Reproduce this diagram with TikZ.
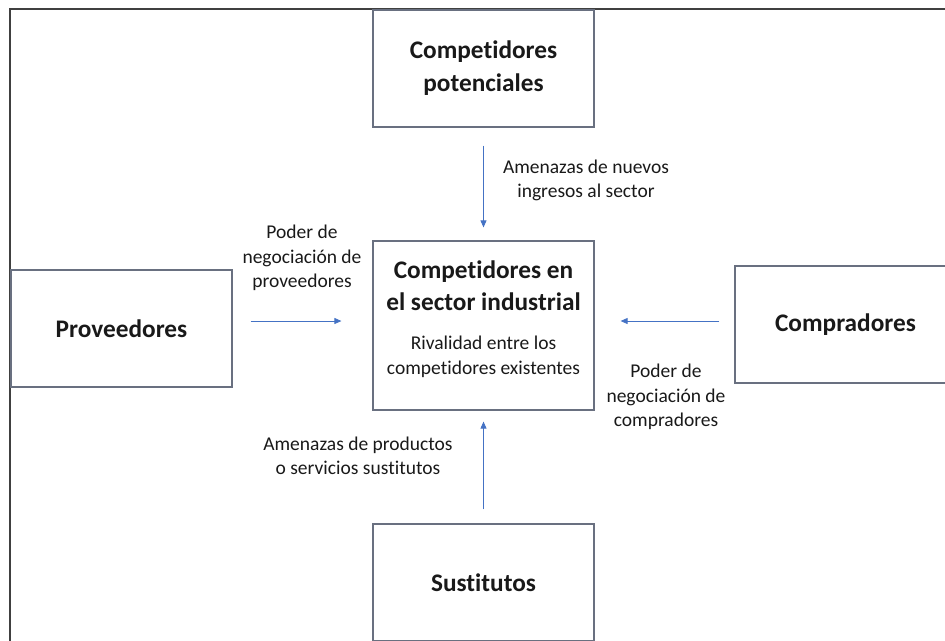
\documentclass[tikz,border=0pt]{standalone}
\usepackage{fontspec}
\setmainfont[Ligatures=NoCommon]{Carlito}
\usetikzlibrary{arrows.meta}
\definecolor{boxgray}{RGB}{105,112,128}
\definecolor{arrowblue}{RGB}{68,114,196}
\definecolor{framegray}{RGB}{64,64,64}
\definecolor{textblack}{RGB}{25,25,25}

\begin{document}
\begin{tikzpicture}[x=1pt,y=-1pt,text=textblack,
    negrita/.style={align=center,inner sep=0pt,font=\fontsize{25.3}{33}\selectfont\bfseries},
    caja/.style={negrita,draw=boxgray,line width=1.2pt,minimum width=221pt,minimum height=117pt},
    etiqueta/.style={align=center,inner sep=0pt,font=\fontsize{19.5}{24.5}\selectfont},
    flecha/.style={draw=arrowblue,line width=0.8pt,-{Triangle[length=7pt,width=6pt]}}]
          \useasboundingbox (0,0) rectangle (945,640);
          \clip (0,0) rectangle (945,640);
          \draw[framegray,line width=1.5pt] (10,9) rectangle (990,690);
          % las cinco cajas
          \node[caja] (potenciales) at (483.5,68.5) {Competidores\\potenciales};
          \node[caja,minimum height=169pt] (centro) at (483.5,325.5) {};
          \node[caja] (proveedores) at (121.5,328.5) {Proveedores};
          \node[caja] (compradores) at (845.5,324.5) {Compradores};
          \node[caja] (sustitutos) at (483.5,582.5) {Sustitutos};
          \node[negrita,font=\fontsize{25.3}{32}\selectfont\bfseries] (titulo) at (483.5,286) {Competidores en\\el sector industrial};
          \node[etiqueta] (rivalidad) at (483.5,357) {Rivalidad entre los\\competidores existentes};
          % flechas
          \coordinate (fila) at (0,321);
          \draw[flecha,shorten <=18pt,shorten >=13pt] (potenciales.south) -- (centro.north);
          \draw[flecha,shorten <=14pt,shorten >=11pt] (sustitutos.north) -- (centro.south);
          \draw[flecha,shorten <=18pt,shorten >=31pt] (proveedores.east |- fila) -- (centro.west |- fila);
          \draw[flecha,shorten <=15pt,shorten >=26pt] (compradores.west |- fila) -- (centro.east |- fila);
          % textos de las fuerzas
          \node[etiqueta] (nuevos) at (586,180.5) {Amenazas de nuevos\\ingresos al sector};
          \node[etiqueta] (poderprov) at (302,258) {Poder de\\negociación de\\proveedores};
          \node[etiqueta] (podercomp) at (666,397) {Poder de\\negociación de\\compradores};
          \node[etiqueta] (productos) at (358,456) {Amenazas de productos\\o servicios sustitutos};
        \end{tikzpicture}
\end{document}
